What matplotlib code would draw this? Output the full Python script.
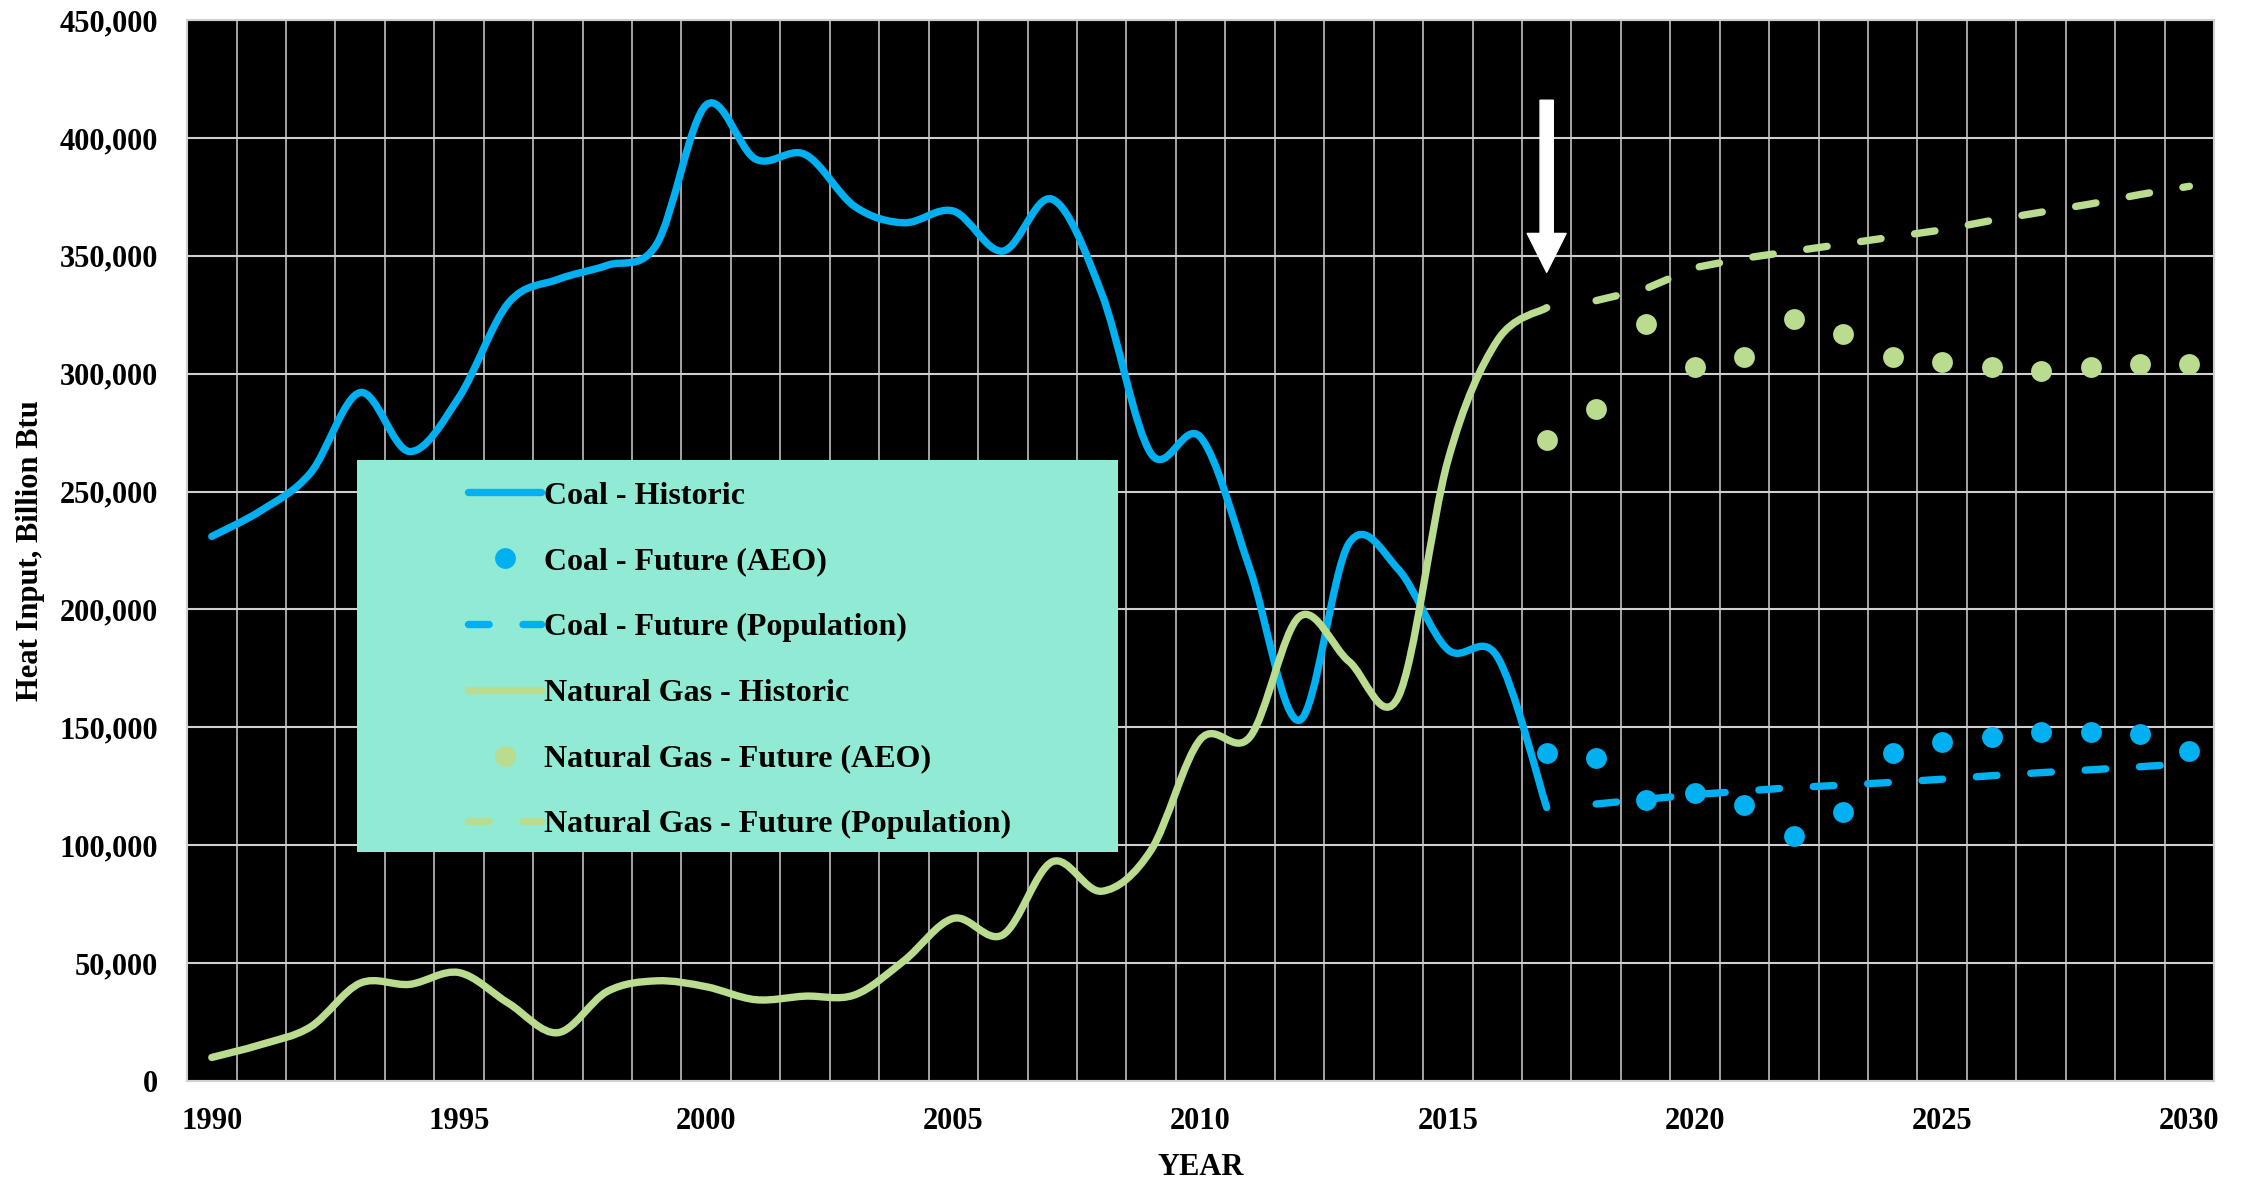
import numpy as np
import matplotlib
matplotlib.use("Agg")
import matplotlib.pyplot as plt
from matplotlib.path import Path
from matplotlib.patches import PathPatch, Rectangle
from matplotlib.lines import Line2D
from matplotlib.ticker import StrMethodFormatter

plt.rcParams["font.family"] = ["Liberation Serif", "DejaVu Serif"]
plt.rcParams["font.weight"] = "bold"

# data
hist_years = list(range(1990, 2018))
coal_hist = [231000, 242000, 258000, 292000, 267000, 290000, 330000, 340000, 346000, 355000,
             414000, 391000, 393000, 371000, 364000, 369000, 352000, 374000, 334000, 266000,
             273000, 217000, 153000, 228000, 217000, 183000, 180000, 116000]
gas_hist = [10000, 15500, 23000, 41500, 41000, 46000, 33000, 20500, 38000, 42500,
            40000, 34500, 36000, 36500, 51000, 69000, 62000, 93000, 80500, 98000,
            145000, 146000, 197000, 178000, 163000, 263000, 314000, 328000]

aeo_years = list(range(2017, 2031))
coal_aeo = [139000, 137000, 119000, 122000, 117000, 104000, 114000,
            139000, 144000, 146000, 148000, 148000, 147000, 140000]
gas_aeo = [272000, 285000, 321000, 303000, 307000, 323000, 317000,
           307000, 305000, 303000, 301000, 303000, 304000, 304000]

pop_years = list(range(2018, 2031))
coal_pop = [117500, 119500, 121500, 123000, 124500, 125500, 126700,
            128000, 129500, 130800, 132000, 133300, 134700]
gas_pop = [331000, 336000, 345000, 349000, 352000, 355000, 358000,
           361000, 365000, 368500, 372000, 376000, 379500]

labels = ["Coal - Historic", "Coal - Future (AEO)", "Coal - Future (Population)",
          "Natural Gas - Historic", "Natural Gas - Future (AEO)",
          "Natural Gas - Future (Population)"]

COAL = "#00B0F0"
GAS = "#B9DC8E"
LEGEND_BG = "#91EAD3"
GRID = "#D0D0D0"
LW = 5.3


def smooth_patch(x, y, color):
    # Excel-style smoothed line: cubic bezier through every point
    x = np.asarray(x, float)
    y = np.asarray(y, float)
    n = len(x)
    verts = [(x[0], y[0])]
    codes = [Path.MOVETO]
    for i in range(n - 1):
        a = max(i - 1, 0)
        b = min(i + 2, n - 1)
        c1 = (x[i] + (x[i + 1] - x[a]) / 6, y[i] + (y[i + 1] - y[a]) / 6)
        c2 = (x[i + 1] - (x[b] - x[i]) / 6, y[i + 1] - (y[b] - y[i]) / 6)
        verts += [c1, c2, (x[i + 1], y[i + 1])]
        codes += [Path.CURVE4] * 3
    return PathPatch(Path(verts, codes), fill=False, edgecolor=color, lw=LW,
                     capstyle="round", joinstyle="round", zorder=3)


fig = plt.figure(figsize=(22.54, 11.79), dpi=100)
ax = fig.add_axes([0.0830, 0.0831, 0.8993, 0.8999])
ax.set_facecolor("black")

ax.add_patch(smooth_patch(hist_years, coal_hist, COAL))
ax.add_patch(smooth_patch(hist_years, gas_hist, GAS))

dash = (2.8, 4.6)
ax.plot(pop_years, coal_pop, color=COAL, lw=LW, dashes=dash, dash_capstyle="round", zorder=3)
ax.plot(pop_years, gas_pop, color=GAS, lw=LW, dashes=dash, dash_capstyle="round", zorder=3)
ax.plot(aeo_years, coal_aeo, "o", color=COAL, ms=15, mec="none", zorder=3)
ax.plot(aeo_years, gas_aeo, "o", color=GAS, ms=15, mec="none", zorder=3)

ax.annotate("", xy=(2017, 343000), xytext=(2017, 416000),
            arrowprops=dict(arrowstyle="simple,head_length=0.5,head_width=0.5,tail_width=0.17",
                            mutation_scale=56, color="white", shrinkA=0, shrinkB=0),
            zorder=6)

ax.set_xlim(1989.5, 2030.5)
ax.set_ylim(0, 450000)
ax.set_xticks(range(1990, 2031, 5))
ax.set_xticks(np.arange(1989.5, 2031, 1), minor=True)
ax.set_yticks(range(0, 450001, 50000))
ax.yaxis.set_major_formatter(StrMethodFormatter("{x:,.0f}"))
ax.tick_params(which="both", length=0, labelsize=22)
ax.tick_params(axis="y", pad=21)
ax.tick_params(axis="x", pad=19)
ax.grid(which="minor", axis="x", color=GRID, lw=1.1)
ax.grid(which="major", axis="y", color=GRID, lw=1.5)
ax.set_axisbelow(True)
for s in ax.spines.values():
    s.set_color(GRID)
    s.set_linewidth(1.5)

ax.set_xlabel("YEAR", fontsize=22, fontweight="bold", labelpad=12)
ax.set_ylabel("Heat Input, Billion Btu", fontsize=22, fontweight="bold", labelpad=10)

# legend box
ax.add_patch(Rectangle((0.0839, 0.2158), 0.3754, 0.3695, transform=ax.transAxes,
                       facecolor=LEGEND_BG, edgecolor="none", zorder=4))
handles = [
    Line2D([], [], color=COAL, lw=LW, solid_capstyle="round"),
    Line2D([], [], color=COAL, ls="none", marker="o", ms=15, mec="none"),
    Line2D([], [], color=COAL, lw=LW, dashes=dash, dash_capstyle="round"),
    Line2D([], [], color=GAS, lw=LW, solid_capstyle="round"),
    Line2D([], [], color=GAS, ls="none", marker="o", ms=15, mec="none"),
    Line2D([], [], color=GAS, lw=LW, dashes=dash, dash_capstyle="round"),
]
leg = ax.legend(handles, labels, loc="center left", bbox_to_anchor=(0.1386, 0.3965),
                frameon=False, fontsize=23, borderpad=0, borderaxespad=0,
                handlelength=2.3, handletextpad=0.08, labelspacing=1.14, numpoints=1)
leg.set_zorder(5)

fig.savefig("out.png", dpi=100)
